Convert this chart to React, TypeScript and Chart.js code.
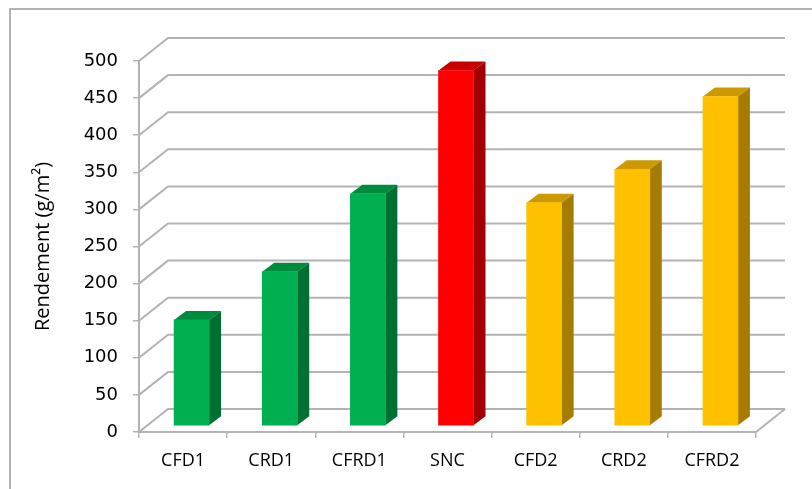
import React, { useEffect, useRef } from "react";
import { Chart, registerables } from "chart.js";

Chart.register(...registerables);

const categories = ["CFD1", "CRD1", "CFRD1", "SNC", "CFD2", "CRD2", "CFRD2"];
const rendement = [143, 208, 313, 479, 301, 346, 444];
const frontColors = ["#00b050", "#00b050", "#00b050", "#ff0000", "#ffc000", "#ffc000", "#ffc000"];
const topColors = ["#008a3e", "#008a3e", "#008a3e", "#c80000", "#cc9a00", "#cc9a00", "#cc9a00"];
const sideColors = ["#006f31", "#006f31", "#006f31", "#a00000", "#a67c00", "#a67c00", "#a67c00"];

const GRID = "#b3b3b3";
const DEPTH_X = 29;
const DEPTH_Y = 23;
const BAR_DX = 8.5;
const BAR_DY = -6;
const BAR_SIDE_X = 12;
const BAR_SIDE_Y = 9;

// Back wall, floor and the slanted lines that join them to the value axis.
const wallPlugin = {
  id: "wall",
  beforeDatasetsDraw(chart: any) {
    const { ctx, chartArea: a, scales } = chart;
    const y = scales.y;
    ctx.save();
    ctx.strokeStyle = GRID;
    ctx.lineWidth = 2;
    y.ticks.forEach((t: any) => {
      const py = y.getPixelForValue(t.value);
      ctx.beginPath();
      ctx.moveTo(a.left, py);
      ctx.lineTo(a.left + DEPTH_X, py - DEPTH_Y);
      ctx.lineTo(a.right + DEPTH_X, py - DEPTH_Y);
      ctx.stroke();
    });
    ctx.beginPath();
    ctx.moveTo(a.right, a.bottom);
    ctx.lineTo(a.right + DEPTH_X, a.bottom - DEPTH_Y);
    ctx.stroke();
    ctx.restore();
  },
};

// Shifts the bars into the depth of the floor and adds their top and side faces.
const extrudePlugin = {
  id: "extrude",
  beforeDatasetDraw(chart: any) {
    const { ctx } = chart;
    chart.getDatasetMeta(0).data.forEach((bar: any, i: number) => {
      const { x, y, base, width } = bar.getProps(["x", "y", "base", "width"], true);
      const l = x - width / 2 + BAR_DX;
      const r = x + width / 2 + BAR_DX;
      const t = y + BAR_DY;
      const b = base + BAR_DY;
      ctx.fillStyle = topColors[i];
      ctx.beginPath();
      ctx.moveTo(l, t);
      ctx.lineTo(l + BAR_SIDE_X, t - BAR_SIDE_Y);
      ctx.lineTo(r + BAR_SIDE_X, t - BAR_SIDE_Y);
      ctx.lineTo(r, t);
      ctx.closePath();
      ctx.fill();
      ctx.fillStyle = sideColors[i];
      ctx.beginPath();
      ctx.moveTo(r, t);
      ctx.lineTo(r + BAR_SIDE_X, t - BAR_SIDE_Y);
      ctx.lineTo(r + BAR_SIDE_X, b - BAR_SIDE_Y);
      ctx.lineTo(r, b);
      ctx.closePath();
      ctx.fill();
    });
    ctx.save();
    ctx.translate(BAR_DX, BAR_DY);
  },
  afterDatasetDraw(chart: any) {
    chart.ctx.restore();
  },
};

// Outer frame of the chart.
const framePlugin = {
  id: "frame",
  beforeDraw(chart: any) {
    const { ctx, width, height } = chart;
    ctx.save();
    ctx.fillStyle = "#ffffff";
    ctx.fillRect(0, 0, width, height);
    ctx.strokeStyle = "#999999";
    ctx.lineWidth = 1.5;
    ctx.strokeRect(10, 9, width + 20, height + 20);
    ctx.restore();
  },
};

export default function App() {
  const ref = useRef<HTMLCanvasElement>(null);

  useEffect(() => {
    document.body.style.margin = "0";
    const chart = new Chart(ref.current!, {
      type: "bar",
      data: {
        labels: categories,
        datasets: [
          {
            label: "Rendement (g/m²)",
            data: rendement,
            backgroundColor: frontColors,
            barThickness: 35,
          },
        ],
      },
      options: {
        responsive: false,
        animation: false,
        layout: { padding: { left: 31, right: 56, top: 61, bottom: 13 } },
        plugins: { legend: { display: false }, tooltip: { enabled: false } },
        scales: {
          x: {
            afterFit: (s: any) => {
              s.height = 44;
            },
            grid: {
              drawOnChartArea: false,
              color: GRID,
              tickColor: GRID,
              tickLength: 6,
              lineWidth: 1.5,
            },
            border: { color: GRID, width: 2 },
            ticks: {
              color: "#000000",
              font: { family: "'Open Sans'", size: 18 },
              padding: 12,
              maxRotation: 0,
            },
          },
          y: {
            min: 0,
            max: 500,
            afterFit: (s: any) => {
              s.width = 108;
            },
            grid: {
              drawOnChartArea: false,
              color: GRID,
              tickColor: GRID,
              tickLength: 6,
              lineWidth: 1.5,
            },
            border: { color: GRID, width: 2 },
            ticks: {
              stepSize: 50,
              color: "#000000",
              font: { family: "'DejaVu Sans'", size: 18 },
              padding: 15,
            },
            title: {
              display: true,
              text: "Rendement (g/m²)",
              color: "#000000",
              font: { family: "'Open Sans'", size: 20 },
              padding: { top: 0, bottom: 4 },
            },
          },
        },
      },
      plugins: [framePlugin, wallPlugin, extrudePlugin],
    });
    return () => chart.destroy();
  }, []);

  return <canvas ref={ref} width={812} height={489} style={{ display: "block" }} />;
}
